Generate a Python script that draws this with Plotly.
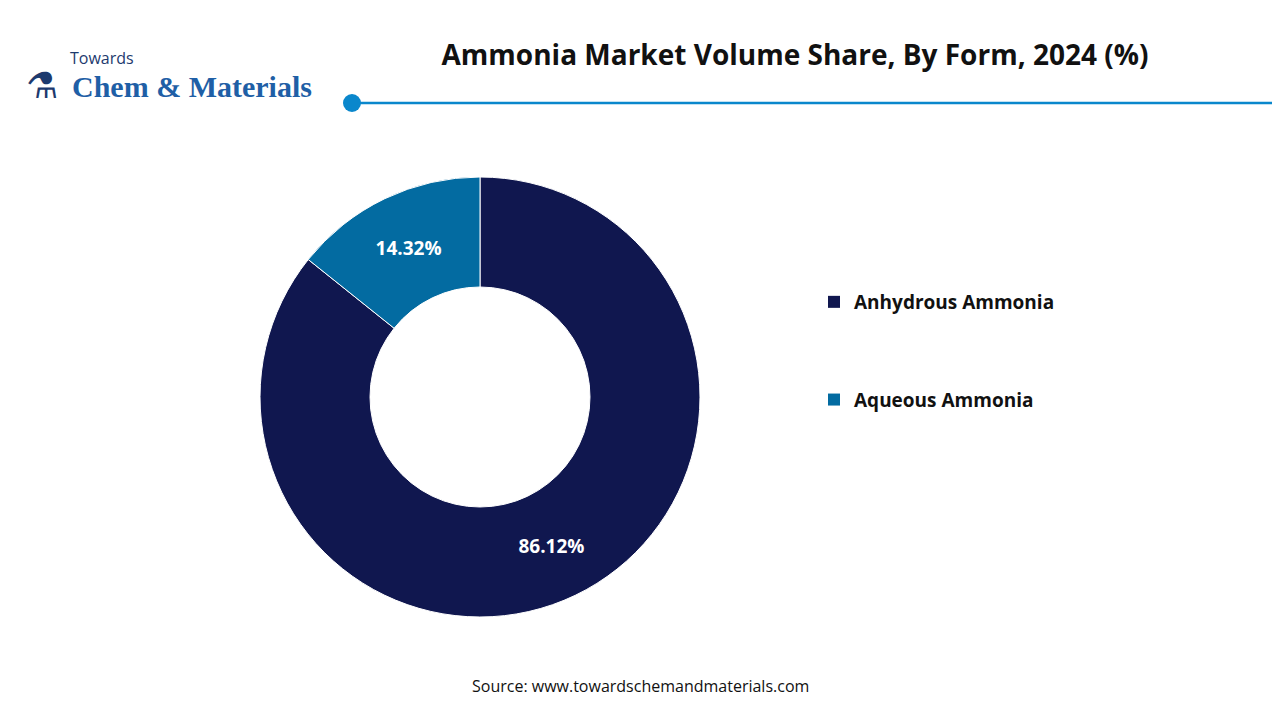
import plotly.graph_objects as go

labels = ["Anhydrous Ammonia", "Aqueous Ammonia"]
values = [86.12, 14.32]
label_text = ["<b>86.12%</b>", "<b>14.32%</b>"]
colors = ["#10174f", "#036ba1"]

# the page adds an 8px body margin; convert reference pixels to paper coords
def px(x):
    return (x - 8) / 1280

def py(y):
    return 1 - (y - 8) / 720

fig = go.Figure()
fig.add_trace(go.Pie(
    labels=labels, values=values, text=label_text,
    textinfo="text", hole=0.5, sort=False, direction="clockwise", rotation=0,
    marker=dict(colors=colors, line=dict(color="white", width=1)),
    textfont=dict(color="white", size=19, family="Open Sans"),
    domain=dict(x=[px(260), px(700)], y=[py(617), py(177)]),
    insidetextorientation="horizontal", showlegend=False,
))

# legend entries (one per slice, so the gap between them can be set)
for name, col in zip(labels, colors):
    fig.add_trace(go.Scatter(x=[None], y=[None], mode="markers", name=f"<b>{name}</b>",
                             legendgroup=name,
                             marker=dict(symbol="square", size=12, color=col)))

fig.update_layout(
    width=1280, height=720, margin=dict(l=0, r=0, t=0, b=0),
    paper_bgcolor="white", plot_bgcolor="white",
    font=dict(family="Open Sans", color="#111"),
    xaxis=dict(visible=False), yaxis=dict(visible=False),
    legend=dict(x=px(814), y=py(351), xanchor="left", yanchor="middle",
                font=dict(size=19, color="#111"), tracegroupgap=70,
                itemwidth=30, traceorder="grouped"),
    title=dict(text="<b>Ammonia Market Volume Share, By Form, 2024 (%)</b>",
               x=px(795), xanchor="center", y=py(55), yanchor="middle",
               font=dict(size=28, color="#111")),
    shapes=[
        dict(type="line", xref="paper", yref="paper", x0=px(352), x1=1, y0=py(103), y1=py(103),
             line=dict(color="#0a87cc", width=2.5)),
        dict(type="circle", xref="paper", yref="paper", x0=px(343), x1=px(361),
             y0=py(112), y1=py(94), fillcolor="#0a87cc", line=dict(width=0)),
    ],
    annotations=[
        dict(text="Source: www.towardschemandmaterials.com", x=px(640), y=py(699),
             xref="paper", yref="paper", showarrow=False, font=dict(size=16, color="#111")),
        dict(text="Towards", x=px(68), y=py(45), xref="paper", yref="paper", xanchor="left",
             showarrow=False, font=dict(size=16, color="#1d3a6e")),
        dict(text="<b>Chem & Materials</b>", x=px(70), y=py(68), xref="paper", yref="paper",
             xanchor="left", showarrow=False,
             font=dict(size=30, color="#1f5fa6", family="Liberation Serif")),
        dict(text="⚗", x=px(24), y=py(58), xref="paper", yref="paper", xanchor="left",
             showarrow=False, font=dict(size=36, color="#1d3a6e")),
    ],
)

fig.write_html("out.html")
